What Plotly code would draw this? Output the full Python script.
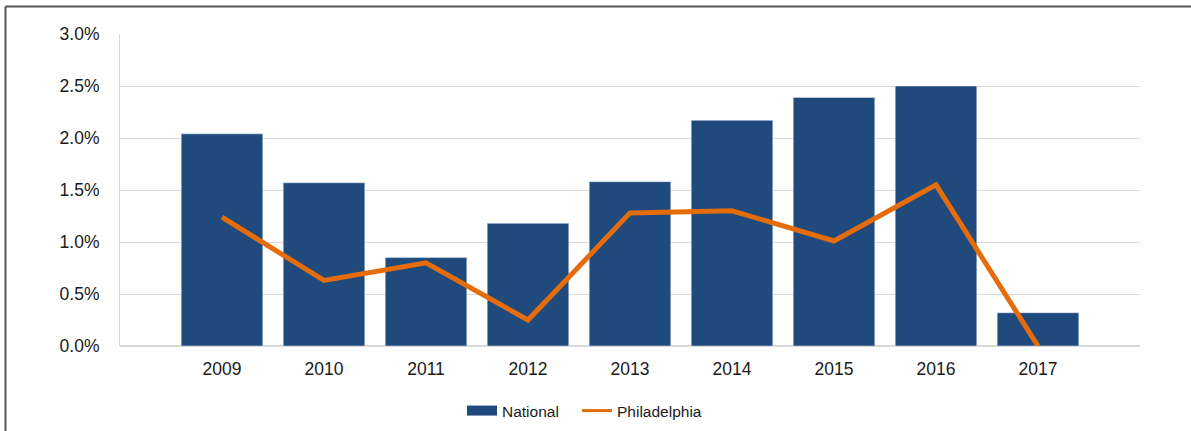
import plotly.graph_objects as go

years = ["2009", "2010", "2011", "2012", "2013", "2014", "2015", "2016", "2017"]
national = [2.04, 1.57, 0.85, 1.18, 1.58, 2.17, 2.39, 2.50, 0.32]
philadelphia = [1.24, 0.63, 0.80, 0.25, 1.28, 1.30, 1.01, 1.55, 0.0]
y_ticks = [0.0, 0.5, 1.0, 1.5, 2.0, 2.5, 3.0]
y_tick_labels = ["0.0%", "0.5%", "1.0%", "1.5%", "2.0%", "2.5%", "3.0%"]

BAR_COLOR = "#204A7C"
LINE_COLOR = "#E46C0A"

fig = go.Figure()
fig.add_trace(go.Bar(x=years, y=national, name="National", marker_color=BAR_COLOR,
                     width=0.8, showlegend=False, legendgroup="nat"))
fig.add_trace(go.Scatter(x=years, y=philadelphia, name="Philadelphia", mode="lines",
                         line=dict(color=LINE_COLOR, width=5), showlegend=False,
                         legendgroup="phl"))
# legend glyphs (wide rectangle for bars, thinner line for the series)
fig.add_trace(go.Scatter(x=[None], y=[None], name="National", mode="lines",
                         line=dict(color=BAR_COLOR, width=13), legendgroup="nat",
                         legend="legend"))
fig.add_trace(go.Scatter(x=[None], y=[None], name="Philadelphia", mode="lines",
                         line=dict(color=LINE_COLOR, width=3), legendgroup="phl",
                         legend="legend2"))

legend_common = dict(orientation="h", xanchor="left", y=(346 - 411) / 312,
                     yanchor="middle", font=dict(size=15.5), bgcolor="rgba(0,0,0,0)")

fig.update_layout(
    width=1191, height=431,
    margin=dict(l=120, r=51, t=34, b=85, autoexpand=False),
    plot_bgcolor="white", paper_bgcolor="white",
    font=dict(family="Liberation Sans, Arial, sans-serif", size=17.5, color="#1a1a1a"),
    showlegend=True,
    legend=dict(x=(462 - 120) / 1020, **legend_common),
    legend2=dict(x=(577 - 120) / 1020, **legend_common),
    bargap=0.2,
)
fig.update_xaxes(type="category", range=[-1, 9], showgrid=False, showline=False,
                 ticks="", ticklabelstandoff=10, zeroline=False, automargin=False)
fig.update_yaxes(range=[0, 3.0], tickvals=y_ticks, ticktext=y_tick_labels,
                 showgrid=True, gridcolor="#D9D9D9", gridwidth=1,
                 showline=True, linecolor="#D9D9D9", linewidth=1, automargin=False,
                 ticks="", ticklabelstandoff=16, zeroline=True, zerolinecolor="#D9D9D9")

# outer frame (left and top edges visible)
fig.add_shape(type="line", xref="paper", yref="paper",
              x0=(5.5 - 120) / 1020, x1=(1200 - 120) / 1020,
              y0=(346 - 6.5) / 312, y1=(346 - 6.5) / 312,
              line=dict(color="#555555", width=2))
fig.add_shape(type="line", xref="paper", yref="paper",
              x0=(5.5 - 120) / 1020, x1=(5.5 - 120) / 1020,
              y0=(346 - 6.5) / 312, y1=(346 - 440) / 312,
              line=dict(color="#555555", width=2))

fig.write_html("out.html")
